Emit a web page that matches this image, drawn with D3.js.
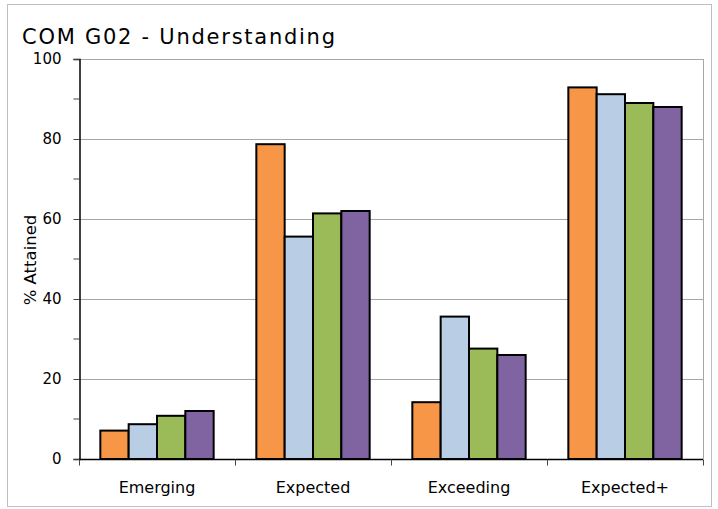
<!DOCTYPE html>
<html><head><meta charset="utf-8">
<script src="https://cdn.jsdelivr.net/npm/d3@7/dist/d3.min.js"></script>
<style>body{margin:0;background:#fff}svg{display:block}</style>
</head><body>
<svg id="c" width="718" height="509"></svg>
<script>
const categories = ["Emerging", "Expected", "Exceeding", "Expected+"];
const seriesNames = ["S1", "S2", "S3", "S4"];
const s1 = [7.1, 78.7, 14.2, 92.9];
const s2 = [8.7, 55.6, 35.6, 91.2];
const s3 = [10.8, 61.4, 27.6, 89.0];
const s4 = [12.0, 62.0, 26.0, 88.0];
const colors = ["#F79646", "#B9CDE5", "#9BBB59", "#8064A2"];
const yTicks = [0, 20, 40, 60, 80, 100];
const title = "COM G02 - Understanding";
const yTitle = "% Attained";

const series = [s1, s2, s3, s4];
const svg = d3.select("#c");
const font = "'DejaVu Sans', Verdana, sans-serif";
const M = {l: 79, r: 703, t: 59, b: 459};

svg.append("rect").attr("x", 7.5).attr("y", 4.5).attr("width", 704).attr("height", 502)
  .attr("fill", "none").attr("stroke", "#BFBFBF").attr("stroke-width", 1);

const x0 = d3.scaleBand().domain(categories).range([M.l, M.r]).paddingInner(0).paddingOuter(0);
const x1 = d3.scaleBand().domain(seriesNames).range([0, x0.bandwidth()]).paddingOuter(0.753).paddingInner(0);
const y = d3.scaleLinear().domain([0, 100]).range([M.b, M.t]);

// gridlines
svg.append("g").selectAll("line").data(yTicks.filter(d => d > 0)).join("line")
  .attr("x1", M.l).attr("x2", M.r).attr("y1", d => Math.round(y(d)) + 0.5).attr("y2", d => Math.round(y(d)) + 0.5)
  .attr("stroke", "#A6A6A6").attr("stroke-width", 1);
svg.append("line").attr("x1", M.r + 0.5).attr("x2", M.r + 0.5).attr("y1", M.t).attr("y2", M.b)
  .attr("stroke", "#A6A6A6");

// bars
const g = svg.append("g");
categories.forEach((c, i) => {
  g.append("g").attr("transform", `translate(${x0(c)},0)`)
    .selectAll("rect").data(series.map((s, j) => ({k: seriesNames[j], v: s[i], c: colors[j]})))
    .join("rect")
    .attr("x", d => x1(d.k)).attr("width", x1.bandwidth())
    .attr("y", d => y(d.v)).attr("height", d => y(0) - y(d.v))
    .attr("fill", d => d.c).attr("stroke", "#000").attr("stroke-width", 2);
});

// y axis
const yAxis = d3.axisLeft(y).tickValues(yTicks).tickSize(6).tickPadding(12);
const ya = svg.append("g").attr("transform", `translate(${M.l + 0.5},0)`).call(yAxis);
ya.select(".domain").attr("stroke", "#000").attr("stroke-width", 1.5);
ya.selectAll(".tick line").attr("stroke", "#444");
ya.selectAll("text").attr("font-family", font).attr("font-size", 15).attr("fill", "#000");
const minor = d3.range(10, 100, 20);
ya.selectAll(".minor").data(minor).join("line").attr("class", "minor")
  .attr("x1", -6).attr("x2", 0).attr("y1", d => y(d)).attr("y2", d => y(d)).attr("stroke", "#444");

// x axis
const xa = svg.append("g").attr("transform", `translate(0,${M.b + 0.5})`);
xa.append("line").attr("x1", M.l).attr("x2", M.r).attr("stroke", "#000").attr("stroke-width", 1.5);
const bounds = categories.map(c => x0(c)).concat([M.r]);
xa.selectAll(".xt").data(bounds).join("line").attr("class", "xt")
  .attr("x1", d => Math.round(d) + 0.5).attr("x2", d => Math.round(d) + 0.5).attr("y1", 0).attr("y2", 6).attr("stroke", "#444");
xa.selectAll("text").data(categories).join("text")
  .attr("x", d => x0(d) + x0.bandwidth() / 2).attr("y", 33).attr("text-anchor", "middle")
  .attr("font-family", font).attr("font-size", 16).attr("fill", "#000").text(d => d);

// titles
svg.append("text").attr("x", 22).attr("y", 44).attr("font-family", font).attr("font-size", 21)
  .attr("textLength", 313).attr("lengthAdjust", "spacing")
  .attr("fill", "#000").text(title);
svg.append("text").attr("transform", "translate(36,260) rotate(-90)").attr("text-anchor", "middle")
  .attr("font-family", font).attr("font-size", 16.5).attr("fill", "#000").text(yTitle);
</script>
</body></html>
